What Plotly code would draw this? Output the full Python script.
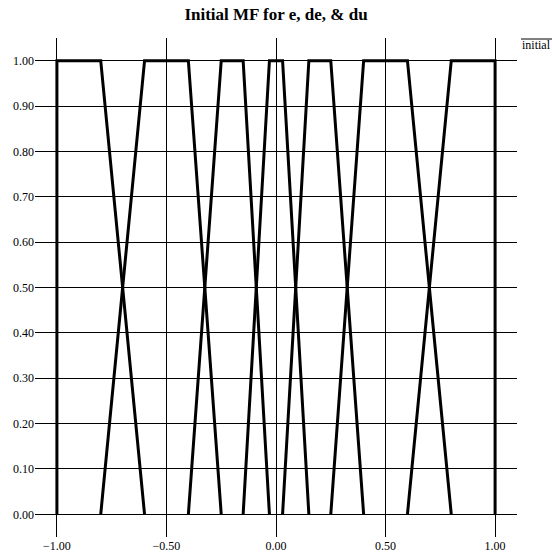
import plotly.graph_objects as go

# Trapezoid membership functions: (left foot, left shoulder, right shoulder, right foot)
mf_left_foot = [-1.00, -0.80, -0.40, -0.15, 0.03, 0.25, 0.60]
mf_left_top = [-1.00, -0.60, -0.25, -0.03, 0.15, 0.40, 0.80]
mf_right_top = [-0.80, -0.40, -0.15, 0.03, 0.25, 0.60, 1.00]
mf_right_foot = [-0.60, -0.25, -0.03, 0.15, 0.40, 0.80, 1.00]
mf_levels = [0.0, 1.0, 1.0, 0.0]

x_ticks = [-1.0, -0.5, 0.0, 0.5, 1.0]
y_ticks = [0.0, 0.1, 0.2, 0.3, 0.4, 0.5, 0.6, 0.7, 0.8, 0.9, 1.0]

W, H = 552, 552
L, R, T, B = 35, 35, 38, 15

fig = go.Figure()
for a, b, c, d in zip(mf_left_foot, mf_left_top, mf_right_top, mf_right_foot):
    fig.add_trace(go.Scatter(
        x=[a, b, c, d], y=mf_levels, mode="lines",
        line=dict(color="black", width=3), showlegend=False,
        hoverinfo="skip", name="initial"))

font = dict(family="Liberation Serif, Times New Roman, serif", color="black")

fig.update_layout(
    width=W, height=H,
    margin=dict(l=L, r=R, t=T, b=B, pad=0),
    paper_bgcolor="white", plot_bgcolor="white",
    title=dict(text="<b>Initial MF for e, de, &amp; du</b>",
               x=0.5, xanchor="center", y=1 - 14 / H, yanchor="middle",
               font=dict(size=17, **font)),
    xaxis=dict(range=[-1.1, 1.1], tickvals=x_ticks, tickformat=".2f",
               showgrid=True, gridcolor="black", gridwidth=1,
               zeroline=False, showline=False, ticks="", automargin=False,
               ticklabelstandoff=0,
               tickfont=dict(size=12, **font)),
    yaxis=dict(range=[-0.05, 1.05], tickvals=y_ticks, tickformat=".2f",
               showgrid=True, gridcolor="black", gridwidth=1,
               zeroline=False, showline=False, ticks="", automargin=False,
               tickfont=dict(size=12, **font)),
    showlegend=False,
)

pw = W - L - R
ph = H - T - B
def px_x(p):
    return (p - L) / pw
def px_y(p):
    return (H - B - p) / ph

fig.add_shape(type="line", xref="paper", yref="paper",
              x0=px_x(521), x1=px_x(553), y0=px_y(39), y1=px_y(39),
              line=dict(color="black", width=1))
fig.add_annotation(text="initial", xref="paper", yref="paper",
                   x=px_x(520), y=px_y(45), xanchor="left", yanchor="middle",
                   showarrow=False, font=dict(size=12, **font))

fig.write_html("out.html")
